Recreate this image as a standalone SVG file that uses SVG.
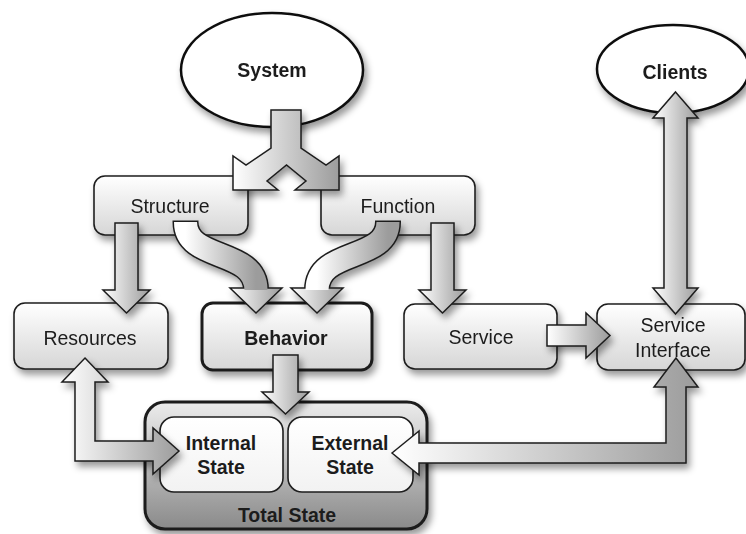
<svg xmlns="http://www.w3.org/2000/svg" width="746" height="534" viewBox="0 0 746 534">
  <defs>
    <linearGradient id="boxGrad" x1="0" y1="0" x2="0" y2="1">
      <stop offset="0" stop-color="#ffffff"/>
      <stop offset="1" stop-color="#d6d6d6"/>
    </linearGradient>
    <linearGradient id="arrowGrad" x1="0" y1="0" x2="1" y2="0">
      <stop offset="0" stop-color="#ffffff"/>
      <stop offset="1" stop-color="#9c9c9c"/>
    </linearGradient>
    <linearGradient id="totalGrad" x1="0" y1="0" x2="0" y2="1">
      <stop offset="0" stop-color="#ececec"/>
      <stop offset="1" stop-color="#8a8a8a"/>
    </linearGradient>
    <linearGradient id="innerGrad" x1="0" y1="0" x2="0" y2="1">
      <stop offset="0" stop-color="#ffffff"/>
      <stop offset="1" stop-color="#f2f2f2"/>
    </linearGradient>
    <filter id="shadow" x="-20%" y="-20%" width="150%" height="160%">
      <feDropShadow dx="3" dy="5" stdDeviation="3.5" flood-color="#000" flood-opacity="0.4"/>
    </filter>
  </defs>
  <style>
    .box { fill: url(#boxGrad); stroke: #1e1e1e; stroke-width: 1.6; }
    .thick { stroke-width: 3; }
    .oval { fill: #ffffff; stroke: #111; stroke-width: 2.5; }
    .inner { fill: url(#innerGrad); stroke: #1e1e1e; stroke-width: 1.6; }
    .arrow { fill: url(#arrowGrad); stroke: #1e1e1e; stroke-width: 1.5; stroke-linejoin: miter; }
    .band { fill: none; stroke: url(#arrowGrad); stroke-width: 23; }
    .bandEdge { fill: none; stroke: #1e1e1e; stroke-width: 26; }
    .lbl { font-family: "Liberation Sans", Arial, Helvetica, sans-serif; font-size: 19.5px; fill: #1c1c1c; text-anchor: middle; }
    .b { font-weight: bold; }
    .sh { filter: url(#shadow); }
  </style>

  <rect width="746" height="534" fill="#ffffff"/>

  <!-- nodes -->
  <g id="system" class="sh">
    <ellipse class="oval" cx="272" cy="70" rx="91" ry="57"/>
    <text class="lbl b" x="272" y="77">System</text>
  </g>
  <g id="clients" class="sh">
    <ellipse class="oval" cx="673" cy="69" rx="76" ry="44"/>
    <text class="lbl b" x="675" y="79">Clients</text>
  </g>
  <g id="structure" class="sh">
    <rect class="box" x="94" y="176" width="154" height="59" rx="11"/>
    <text class="lbl" x="170" y="213">Structure</text>
  </g>
  <g id="function" class="sh">
    <rect class="box" x="321" y="176" width="154" height="59" rx="11"/>
    <text class="lbl" x="398" y="213">Function</text>
  </g>
  <g id="resources" class="sh">
    <rect class="box" x="14" y="303" width="154" height="66" rx="11"/>
    <text class="lbl" x="90" y="345">Resources</text>
  </g>
  <g id="behavior" class="sh">
    <rect class="box thick" x="202" y="303" width="170" height="67" rx="11"/>
    <text class="lbl b" x="286" y="345">Behavior</text>
  </g>
  <g id="service" class="sh">
    <rect class="box" x="404" y="304" width="153" height="65" rx="11"/>
    <text class="lbl" x="481" y="344">Service</text>
  </g>
  <g id="service-interface" class="sh">
    <rect class="box" x="597" y="304" width="148" height="66" rx="11"/>
    <text class="lbl" x="673" y="332">Service</text>
    <text class="lbl" x="673" y="357">Interface</text>
  </g>
  <g id="total-state">
    <rect class="sh" x="145" y="402" width="282" height="127" rx="20" fill="url(#totalGrad)" stroke="#1a1a1a" stroke-width="3"/>
    <text class="lbl b" x="287" y="522">Total State</text>
    <g id="internal-state">
      <rect class="inner" x="160" y="417" width="123" height="75" rx="14"/>
      <text class="lbl b" x="221" y="450">Internal</text>
      <text class="lbl b" x="221" y="474">State</text>
    </g>
    <g id="external-state">
      <rect class="inner" x="288" y="417" width="125" height="75" rx="14"/>
      <text class="lbl b" x="350" y="450">External</text>
      <text class="lbl b" x="350" y="474">State</text>
    </g>
  </g>

  <!-- connectors -->
  <g id="connectors">
    <!-- System splits into Structure and Function -->
    <path class="arrow sh" d="M271,110 L301,110 L301,148 L326,165 L339,156 L339,190 L295,190 L306,181 L286.5,165 L267,181 L278,190 L233,190 L233,156 L246,165 L271,148 Z"/>

    <!-- Structure to Resources -->
    <path class="arrow sh" d="M115,223 L138,223 L138,290 L150,290 L126.5,313 L103,290 L115,290 Z"/>

    <!-- Function to Service -->
    <path class="arrow sh" d="M431,223 L454,223 L454,290 L466,290 L442.5,313 L419,290 L431,290 Z"/>

    <!-- Structure to Behavior -->
    <g class="sh">
      <path class="bandEdge" d="M185.5,220.5 L185.5,222 C185.5,262 256,248 256,290"/>
      <path class="arrow" d="M230,288 L282,288 L256,313 Z"/>
      <path class="band" d="M185.5,222 C185.5,262 256,248 256,290"/>
    </g>

    <!-- Function to Behavior -->
    <g class="sh">
      <path class="bandEdge" d="M388,220.5 L388,222 C388,262 317,248 317,290"/>
      <path class="arrow" d="M291,288 L343,288 L317,313 Z"/>
      <path class="band" d="M388,222 C388,262 317,248 317,290"/>
    </g>

    <!-- Behavior to Total State -->
    <path class="arrow sh" d="M273,355 L298,355 L298,392 L309,392 L285.5,414 L262,392 L273,392 Z"/>

    <!-- Service to Service Interface -->
    <path class="arrow sh" d="M547,325 L586,325 L586,313 L610,335.5 L586,358 L586,346 L547,346 Z"/>

    <!-- Clients and Service Interface -->
    <path class="arrow sh" d="M675.5,92 L698,118 L687,118 L687,288 L698,288 L675.5,314 L653,288 L664,288 L664,118 L653,118 Z"/>

    <!-- Resources and Internal State -->
    <path class="arrow sh" d="M85,358 L108,382 L95,382 L95,441 L153,441 L153,428 L179,451 L153,474 L153,461 L75,461 L75,382 L62,382 Z"/>

    <!-- External State and Service Interface -->
    <path class="arrow sh" d="M392,453 L419,431 L419,443 L666,443 L666,387 L654,387 L676,358 L698,387 L686,387 L686,463 L419,463 L419,475 Z"/>
  </g>
</svg>
